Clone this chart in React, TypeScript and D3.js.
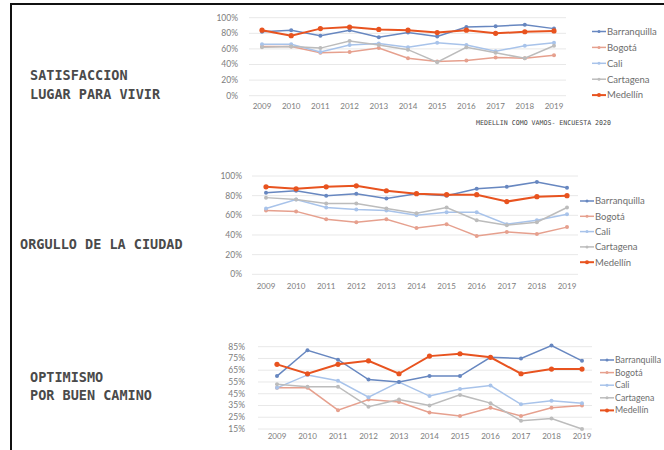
import * as d3 from "d3";

const years = ["2009", "2010", "2011", "2012", "2013", "2014", "2015", "2016", "2017", "2018", "2019"];
const cities = ["Barranquilla", "Bogotá", "Cali", "Cartagena", "Medellín"];
const cityColors = ["#6787c0", "#e6a08e", "#a8c3ea", "#bcbcbc", "#e8531f"];

// rows follow the cities order
const satisfaccion = [
  [82, 84, 77, 84, 75, 81, 76, 88, 89, 91, 86],
  [63, 63, 55, 56, 61, 48, 44, 45, 49, 48, 52],
  [66, 66, 56, 65, 67, 62, 68, 65, 57, 64, 68],
  [62, 63, 61, 70, 65, 59, 43, 62, 55, 48, 64],
  [84, 77, 86, 88, 85, 84, 81, 84, 80, 82, 83],
];
const orgullo = [
  [83, 85, 80, 82, 77, 82, 80, 87, 89, 94, 88],
  [65, 64, 56, 53, 56, 47, 51, 39, 43, 41, 48],
  [67, 76, 68, 66, 65, 60, 63, 63, 51, 55, 61],
  [78, 76, 72, 72, 67, 62, 68, 55, 50, 53, 68],
  [89, 87, 89, 90, 85, 82, 81, 81, 74, 79, 80],
];
const optimismo = [
  [60, 82, 74, 57, 55, 60, 60, 76, 75, 86, 73],
  [50, 50, 31, 40, 38, 29, 26, 33, 26, 33, 35],
  [50, 61, 56, 42, 55, 43, 49, 52, 36, 39, 37],
  [53, 51, 51, 34, 40, 35, 44, 37, 22, 24, 15],
  [70, 62, 70, 73, 62, 77, 79, 76, 62, 66, 66],
];

const pctTicks100 = [0, 20, 40, 60, 80, 100];
const pctTicks85 = [15, 25, 35, 45, 55, 65, 75, 85];

const tickFont = "Lato, 'Noto Sans', sans-serif";
const monoFont = "'DejaVu Sans Mono', 'Liberation Mono', monospace";

interface PanelProps {
  data: number[][];
  yDomain: [number, number];
  yRange: [number, number];
  ticks: number[];
  xRange: [number, number];
  gridX: [number, number];
  labelX: number;
  xLabelY: number;
  legendX: number;
  legendY: number;
  legendStep: number;
  legendSize?: number;
}

function Panel({ data, yDomain, yRange, ticks, xRange, gridX, labelX, xLabelY, legendX, legendY, legendStep, legendSize = 9.5 }: PanelProps) {
  const x = d3.scalePoint<string>().domain(years).range(xRange);
  const y = d3.scaleLinear().domain(yDomain).range(yRange);
  const line = d3
    .line<number>()
    .x((_, i) => x(years[i]) as number)
    .y((d) => y(d));

  return (
    <g>
      {ticks.map((t) => (
        <g key={t}>
          <line x1={gridX[0]} x2={gridX[1]} y1={y(t)} y2={y(t)} stroke="#e8e8e8" strokeWidth={1} />
          <text x={labelX} y={y(t)} dy="0.35em" textAnchor="end" fontSize={8.5} fill="#7d7d7d" fontFamily={tickFont}>
            {t}%
          </text>
        </g>
      ))}
      {years.map((yr) => (
        <text key={yr} x={x(yr)} y={xLabelY} dy="0.35em" textAnchor="middle" fontSize={8} fill="#7d7d7d" fontFamily={tickFont}>
          {yr}
        </text>
      ))}
      {[1, 2, 3, 0, 4].map((ci) => {
        const thick = ci === 4;
        return (
          <g key={cities[ci]}>
            <path d={line(data[ci]) ?? ""} fill="none" stroke={cityColors[ci]} strokeWidth={thick ? 2 : 1.5} />
            {data[ci].map((v, i) => (
              <circle key={i} cx={x(years[i])} cy={y(v)} r={thick ? 2.6 : 2} fill={cityColors[ci]} />
            ))}
          </g>
        );
      })}
      {cities.map((c, i) => {
        const ly = legendY + i * legendStep;
        return (
          <g key={c}>
            <line x1={legendX} x2={legendX + 14} y1={ly} y2={ly} stroke={cityColors[i]} strokeWidth={i === 4 ? 2 : 1.5} />
            <circle cx={legendX + 7} cy={ly} r={i === 4 ? 2 : 1.5} fill={cityColors[i]} />
            <text x={legendX + 15} y={ly} dy="0.35em" fontSize={legendSize} fill="#6e6e6e" fontFamily={tickFont}>
              {c}
            </text>
          </g>
        );
      })}
    </g>
  );
}

export default function App() {
  const titleStyle = { fontFamily: monoFont, fontSize: 13.5, fill: "#4a4a4a", fontWeight: 600 } as const;
  return (
    <svg width={664} height={450} style={{ position: "absolute", left: 0, top: 0, background: "#fff" }}>
      <rect width={664} height={450} fill="#fff" />
      <line x1={10} x2={664} y1={4} y2={4} stroke="#111" strokeWidth={2} />
      <line x1={11} x2={11} y1={3} y2={450} stroke="#111" strokeWidth={2} />

      <text x={30} y={80} {...titleStyle}>SATISFACCION</text>
      <text x={30} y={99} {...titleStyle}>LUGAR PARA VIVIR</text>
      <text x={20} y={249} {...titleStyle}>ORGULLO DE LA CIUDAD</text>
      <text x={30} y={382} {...titleStyle}>OPTIMISMO</text>
      <text x={30} y={400} {...titleStyle}>POR BUEN CAMINO</text>

      <Panel
        data={satisfaccion}
        yDomain={[0, 100]}
        yRange={[95.7, 17.7]}
        ticks={pctTicks100}
        xRange={[262, 554]}
        gridX={[249, 566]}
        labelX={238}
        xLabelY={106.5}
        legendX={592}
        legendY={31.5}
        legendStep={15.9}
      />
      <text x={476} y={125} fontSize={6.6} fill="#444" fontFamily={monoFont}>
        MEDELLIN COMO VAMOS- ENCUESTA 2020
      </text>

      <Panel
        data={orgullo}
        yDomain={[0, 100]}
        yRange={[274.3, 176]}
        ticks={pctTicks100}
        xRange={[266, 567]}
        gridX={[252, 578]}
        labelX={242}
        xLabelY={286.5}
        legendX={580}
        legendY={201}
        legendStep={15.3}
      />

      <Panel
        data={optimismo}
        yDomain={[15, 85]}
        yRange={[429, 346.7]}
        ticks={pctTicks85}
        xRange={[277, 582]}
        gridX={[258, 592]}
        labelX={245}
        xLabelY={436.5}
        legendX={600}
        legendY={360}
        legendStep={12.6}
        legendSize={8.8}
      />
    </svg>
  );
}
